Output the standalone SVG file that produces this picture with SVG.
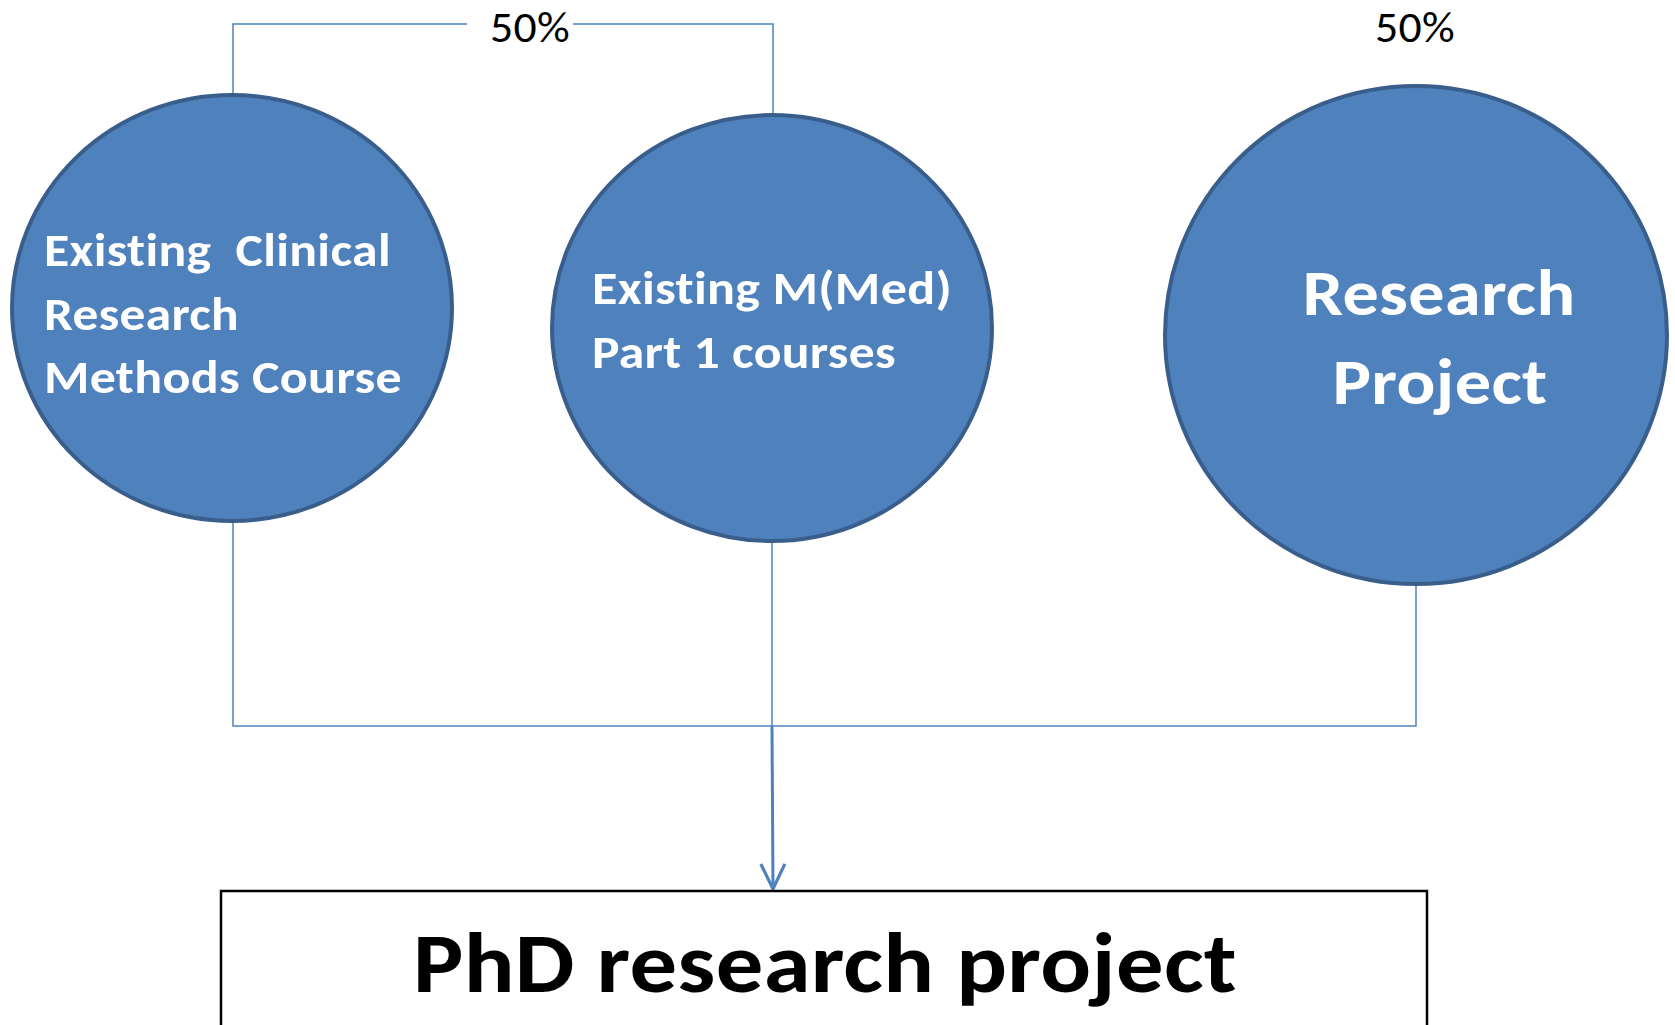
<svg xmlns="http://www.w3.org/2000/svg" width="1675" height="1025" viewBox="0 0 1675 1025">
<style>
text{font-variant-ligatures:none;font-feature-settings:"liga" 0,"clig" 0;letter-spacing:0.3px}
.node{fill:#4f81bd;stroke:#3a5e8c;stroke-width:4}
.lbl{font-family:"Carlito","Lato","Liberation Sans",sans-serif;font-weight:bold;fill:#ffffff}
.pct{font-family:"Carlito","Lato","Liberation Sans",sans-serif;font-size:44px;fill:#000000}
.conn{fill:none;stroke:#4f81bd;stroke-width:1.5}
</style>
<defs>
<marker id="arr" markerUnits="userSpaceOnUse" viewBox="-3 -16 30 32" markerWidth="30" markerHeight="32" refX="25" refY="0" orient="auto">
<path d="M0,-12 L25,0 L0,12" fill="none" stroke="#4f81bd" stroke-width="3.2"/>
</marker>
</defs>
<rect width="1675" height="1025" fill="#ffffff"/>
<g id="connectors">
<path class="conn" d="M233,95 V24 H467"/>
<path class="conn" d="M573,24 H773 V115"/>
<path class="conn" d="M233,522 V726 H1416 V584"/>
<path class="conn" d="M772,542 V726"/>
<path d="M772,726 L773,889" fill="none" stroke="#4f81bd" stroke-width="3" marker-end="url(#arr)"/>
<text class="pct" x="530" y="42" text-anchor="middle" textLength="80" lengthAdjust="spacingAndGlyphs">50%</text>
<text class="pct" x="1415" y="42" text-anchor="middle" textLength="80" lengthAdjust="spacingAndGlyphs">50%</text>
</g>
<g id="node-clinical">
<ellipse class="node" cx="232" cy="308" rx="220" ry="213"/>
<text class="lbl" font-size="47" x="44" y="266" textLength="347" lengthAdjust="spacingAndGlyphs" xml:space="preserve">Existing  Clinical</text>
<text class="lbl" font-size="47" x="44" y="330" textLength="195" lengthAdjust="spacingAndGlyphs">Research</text>
<text class="lbl" font-size="47" x="44" y="393" textLength="358" lengthAdjust="spacingAndGlyphs">Methods Course</text>
</g>
<g id="node-mmed">
<ellipse class="node" cx="772" cy="328" rx="220" ry="213"/>
<text class="lbl" font-size="47" x="592" y="304" textLength="360" lengthAdjust="spacingAndGlyphs">Existing M(Med)</text>
<text class="lbl" font-size="47" x="592" y="368" textLength="304" lengthAdjust="spacingAndGlyphs">Part 1 courses</text>
</g>
<g id="node-project">
<ellipse class="node" cx="1416" cy="335" rx="251" ry="249"/>
<text class="lbl" font-size="65" x="1439" y="315" text-anchor="middle" textLength="273" lengthAdjust="spacingAndGlyphs">Research</text>
<text class="lbl" font-size="65" x="1440" y="404" text-anchor="middle" textLength="215" lengthAdjust="spacingAndGlyphs">Project</text>
</g>
<g id="node-phd">
<rect x="221" y="891" width="1206" height="160" fill="#ffffff" stroke="#000000" stroke-width="2.5"/>
<text font-family="Carlito, Lato, 'Liberation Sans', sans-serif" font-weight="bold" font-size="84" x="825" y="992" text-anchor="middle" textLength="824" lengthAdjust="spacingAndGlyphs">PhD research project</text>
</g>
</svg>
